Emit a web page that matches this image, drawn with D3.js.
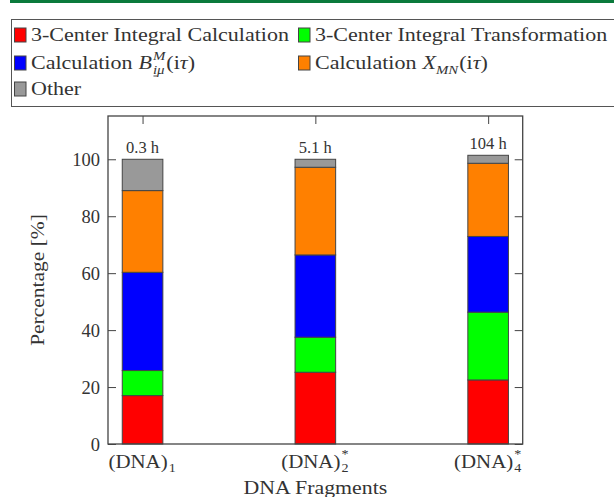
<!DOCTYPE html>
<html>
<head>
<meta charset="utf-8">
<script src="https://cdn.jsdelivr.net/npm/d3@7"></script>
<style>
  html, body { margin: 0; padding: 0; background: #fff; }
  svg { display: block; }
  text { font-family: "Liberation Serif", "DejaVu Serif", serif; fill: #333; }
</style>
</head>
<body>
<svg id="chart" width="614" height="497"></svg>
<script>
// Runtime breakdown per DNA fragment (percent of total wall time)
const fragments = ["(DNA)1", "(DNA)2*", "(DNA)4*"];
const fragmentBase = ["(DNA)", "(DNA)", "(DNA)"];
const fragmentSub = ["1", "2", "4"];
const fragmentSup = ["", "*", "*"];
const totalTimes = ["0.3 h", "5.1 h", "104 h"];

const integralCalc   = [17.0, 25.2, 22.5];
const integralTrans  = [8.8, 12.3, 23.8];
const calcB          = [34.5, 28.9, 26.6];
const calcX          = [28.7, 30.8, 25.7];
const other          = [11.0, 2.8, 2.8];

const yTicks = [0, 20, 40, 60, 80, 100];

const seriesKeys = ["integralCalc", "integralTrans", "calcB", "calcX", "other"];
const seriesColors = ["#ff0000", "#00ff00", "#0000ff", "#ff8000", "#999999"];

const table = fragments.map((f, i) => ({
  fragment: f,
  integralCalc: integralCalc[i],
  integralTrans: integralTrans[i],
  calcB: calcB[i],
  calcX: calcX[i],
  other: other[i]
}));

const svg = d3.select("#chart");
const FS = 18.5;      // main text size
const SS = 12.5;      // script size
const WIDEN = 1.19;   // letters are set a little wider than the font's natural advance
const axisColor = "#444";

// One run of text, widened horizontally by factor k; returns its drawn width
function addText(g, x, base, str, size, italic, k) {
  const t = g.append("text").attr("x", x).attr("y", base)
    .attr("font-size", size).text(str);
  if (italic) t.attr("font-style", "italic");
  const w = t.node().getComputedTextLength();
  if (k !== 1) t.attr("textLength", w * k).attr("lengthAdjust", "spacingAndGlyphs");
  return w * k;
}

// Sequence of runs, some of them stacked super/subscripts
function drawRich(g, x0, base, parts, k) {
  let cx = x0;
  for (const p of parts) {
    if (p.sup !== undefined || p.sub !== undefined) {
      let w = 0;
      if (p.sup) w = Math.max(w, addText(g, cx, base - 9.5, p.sup, SS, p.supItalic, k));
      if (p.sub) {
        const sw = addText(g, cx, base + 4.5, p.sub, SS, p.subItalic, k);
        w = Math.max(w, sw);
        if (p.underFirst) {
          g.append("line").attr("x1", cx + 0.5).attr("x2", cx + 4.5)
            .attr("y1", base + 7).attr("y2", base + 7)
            .attr("stroke", "#333").attr("stroke-width", 0.9);
        }
      }
      cx += w + 1;
    } else {
      cx += addText(g, cx, base, p.t, p.size || FS, p.it, k) + (p.gap || 0);
    }
  }
  return cx - x0;
}

// Decorative rule across the top
svg.append("line")
  .attr("x1", 10).attr("x2", 614).attr("y1", 1.5).attr("y2", 1.5)
  .attr("stroke", "#0b7a3c").attr("stroke-width", 3);

// Legend box
svg.append("rect")
  .attr("x", 11.5).attr("y", 19.5).attr("width", 620).attr("height", 87)
  .attr("fill", "none").attr("stroke", "#555").attr("stroke-width", 1);

const legend = svg.append("g");
const legendItems = [
  { col: 0, row: 0, color: seriesColors[0], parts: [{ t: "3-Center Integral Calculation" }] },
  { col: 1, row: 0, color: seriesColors[1], parts: [{ t: "3-Center Integral Transformation" }] },
  { col: 0, row: 1, color: seriesColors[2], parts: [
      { t: "Calculation", gap: 6 }, { t: "B", it: true, gap: 1 },
      { sup: "M", supItalic: true, sub: "iμ", subItalic: true, underFirst: true },
      { t: "(i" }, { t: "τ", it: true }, { t: ")" }] },
  { col: 1, row: 1, color: seriesColors[3], parts: [
      { t: "Calculation", gap: 6 }, { t: "X", it: true, gap: 0 },
      { sub: "MN", subItalic: true },
      { t: "(i" }, { t: "τ", it: true }, { t: ")" }] },
  { col: 0, row: 2, color: seriesColors[4], parts: [{ t: "Other" }] }
];
const colX = [14, 298];
const rowY = [35, 63, 89];

legendItems.forEach(item => {
  const x0 = colX[item.col], yc = rowY[item.row];
  legend.append("rect")
    .attr("x", x0 + 0.5).attr("y", yc - 7)
    .attr("width", 11.5).attr("height", 14)
    .attr("fill", item.color).attr("stroke", "#444").attr("stroke-width", 1);
  drawRich(legend, x0 + 17, yc + 6, item.parts, WIDEN);
});

// Plot area
const plotLeft = 108, plotRight = 522.7, plotTop = 116, plotBottom = 444;
const x = d3.scalePoint().domain(fragments).range([plotLeft, plotRight]).padding(0.2);
const y = d3.scaleLinear().domain([0, 115.2]).range([plotBottom, plotTop]);
const barW = 40.6;

const styleAxis = g => {
  g.select(".domain").remove();
  g.selectAll(".tick line").attr("stroke", axisColor);
};

// Inward tick marks on all four sides
svg.append("g").attr("transform", `translate(${plotLeft},0)`)
  .call(d3.axisLeft(y).tickValues(yTicks).tickSize(-8).tickPadding(8).tickFormat(d3.format("d")))
  .call(styleAxis)
  .call(g => g.selectAll("text").attr("font-size", FS)
    .attr("font-family", "Liberation Serif, serif").attr("fill", "#333").attr("dy", "0.33em"));
svg.append("g").attr("transform", `translate(${plotRight},0)`)
  .call(d3.axisRight(y).tickValues(yTicks).tickSize(-8).tickFormat(""))
  .call(styleAxis);
svg.append("g").attr("transform", `translate(0,${plotTop})`)
  .call(d3.axisTop(x).tickSize(-8).tickFormat(""))
  .call(styleAxis);
svg.append("g").attr("transform", `translate(0,${plotBottom})`)
  .call(d3.axisBottom(x).tickSize(-8).tickFormat(""))
  .call(styleAxis);

// Stacked bars
const stack = d3.stack().keys(seriesKeys)(table);
const layers = svg.append("g").selectAll("g").data(stack).join("g")
  .attr("fill", (d, i) => seriesColors[i]);
layers.selectAll("rect").data(d => d).join("rect")
  .attr("x", d => x(d.data.fragment) - barW / 2)
  .attr("y", d => y(d[1]))
  .attr("width", barW)
  .attr("height", d => y(d[0]) - y(d[1]))
  .attr("stroke", "#444").attr("stroke-width", 1);

// Total run time above each bar
const totals = table.map(d => seriesKeys.reduce((s, k) => s + d[k], 0));
svg.append("g").selectAll("text").data(fragments).join("text")
  .attr("x", d => x(d))
  .attr("y", (d, i) => y(totals[i]) - 6)
  .attr("text-anchor", "middle")
  .attr("font-size", 16.5)
  .text((d, i) => totalTimes[i]);

// Frame
svg.append("rect")
  .attr("x", plotLeft).attr("y", plotTop)
  .attr("width", plotRight - plotLeft).attr("height", plotBottom - plotTop)
  .attr("fill", "none").attr("stroke", axisColor).attr("stroke-width", 1.3);

// Category labels with sub/superscripts
const xl = svg.append("g");
fragments.forEach((f, i) => {
  const g = xl.append("g");
  const parts = [{ t: fragmentBase[i], gap: 1 },
    fragmentSup[i] ? { sup: fragmentSup[i], sub: fragmentSub[i] } : { sub: fragmentSub[i] }];
  const w = drawRich(g, 0, 467.5, parts, 1.13);
  g.attr("transform", `translate(${x(f) - w / 2},0)`);
});

// Axis titles
const xt = svg.append("g");
const xtw = drawRich(xt, 0, 494, [{ t: "DNA Fragments" }], 1.18);
xt.attr("transform", `translate(${(plotLeft + plotRight) / 2 - xtw / 2},0)`);

const ytg = svg.append("g");
const ytw = drawRich(ytg, 0, 0, [{ t: "Percentage [%]" }], 1.16);
ytg.attr("transform", `translate(44,${(plotTop + plotBottom) / 2 + ytw / 2}) rotate(-90)`);
</script>
</body>
</html>
